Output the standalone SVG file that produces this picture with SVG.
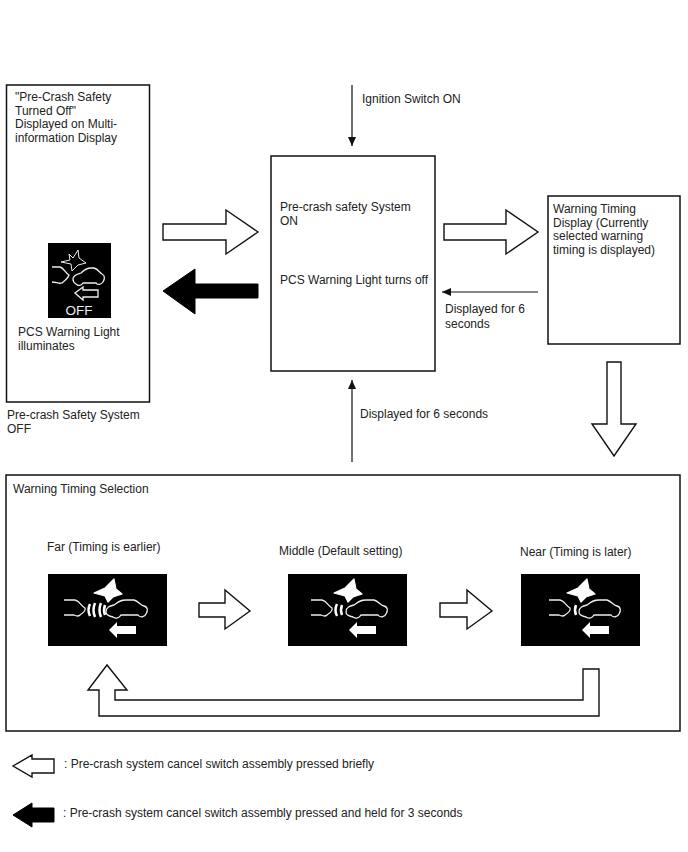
<svg xmlns="http://www.w3.org/2000/svg" width="688" height="852" viewBox="0 0 688 852">
<style>
text{font-family:"Liberation Sans",Arial,sans-serif;font-size:12px;fill:#222}
.box{fill:#fff;stroke:#111;stroke-width:1.5}
.hollow{fill:#fff;stroke:#111;stroke-width:1.4;stroke-linejoin:miter}
.solid{fill:#000;stroke:#000}
.line{fill:none;stroke:#111;stroke-width:1.2}
.ico{fill:none;stroke:#eee;stroke-width:1.3}
.white{fill:#fff}
.star{fill:#fff;stroke:#fff;stroke-width:1.2;stroke-linejoin:round}
.wave{fill:none;stroke:#fff;stroke-width:2.5}
</style>
<defs>
<marker id="tip" markerWidth="10" markerHeight="10" refX="9" refY="4" orient="auto" markerUnits="userSpaceOnUse"><path d="M0 0L9 4L0 8Z" fill="#111"/></marker>
<!-- black panel with star, car and arrow; the curved road mark is added per panel -->
<g id="crash">
<rect x="0" y="0" width="119" height="72" fill="#000"/>
<path class="star" d="M66 5L68 15L74 20L65 23L60 28L57 22L46 19L57 14Z"/>
<path class="ico" d="M58 38C58 33 62 32 66 31C70 28 72 26 78 26H86C90 27 92 31 96 32C100 33 100 37 98 40C97 43 92 44 90 41H73C71 44 68 45 65 43C60 42 58 41 58 38Z"/>
<path class="white" d="M61 56L69 48V52H88V60H69V64Z"/>
</g>
<path id="road" class="ico" d="M16 26H27C32 27 33 32 37 34C38 38 34 39 32 41C30 43 28 42 26 41H16"/>
</defs>

<g id="off-panel">
<rect class="box" x="6.500" y="85" width="143" height="317"/>
<text x="15" y="101">"Pre-Crash Safety</text><text x="15" y="115">Turned Off"</text><text x="15" y="128">Displayed on Multi-</text><text x="15" y="142">information Display</text>
<rect x="48" y="243" width="63" height="75" fill="#000"/>
<path d="M69 254L73 258L78 250L79 258L86 263L78 265L72 271L71 264L61 262L70 260Z" fill="none" stroke="#eee" stroke-width="1"/>
<path class="ico" d="M52 267H60C64 268 65 273 69 275C68 279 65 280 62 283C59 284 56 282 52 282"/>
<path class="ico" d="M73 279C73 275 78 274 81 273C84 270 87 268 91 268H94C98 269 100 273 102 274C105 275 105 279 103 282C101 285 97 285 96 283H83C81 286 78 286 76 284C74 283 73 281 73 279Z"/>
<path class="ico" d="M75 293L83 287V290H98V297H83V300Z"/>
<text x="65.500" y="314.500" style="font-size:13.500px;fill:#eee">OFF</text>
<text x="18" y="336">PCS Warning Light</text><text x="18" y="350">illuminates</text>
</g>
<g id="off-caption"><text x="7" y="419">Pre-crash Safety System</text><text x="7" y="433">OFF</text></g>

<g id="system-on">
<rect class="box" x="271" y="156" width="164" height="215"/>
<text x="280" y="211">Pre-crash safety System</text><text x="280" y="225">ON</text>
<text x="280" y="284">PCS Warning Light turns off</text>
</g>

<g id="timing-display">
<rect class="box" x="548" y="196" width="132" height="148"/>
<text x="553" y="213">Warning Timing</text><text x="553" y="227">Display (Currently</text><text x="553" y="240">selected warning</text><text x="553" y="254">timing is displayed)</text>
</g>

<g id="timing-selection">
<rect class="box" x="6" y="475" width="674" height="256"/>
<text x="13" y="493">Warning Timing Selection</text>
<text x="47" y="551">Far (Timing is earlier)</text>
<use href="#crash" x="48" y="574"/>
<use href="#road" x="48" y="574"/>
<path class="wave" d="M90 604Q87 610 90 616M95 603Q92 610 95 617M101 603Q98 610 101 617M105 605Q103 610 105 615"/>
<text x="279" y="555">Middle (Default setting)</text>
<use href="#crash" x="288" y="574"/>
<use href="#road" x="295" y="574"/>
<path class="wave" d="M337 604Q334 610 337 616M342 605Q340 610 342 615"/>
<text x="520" y="556">Near (Timing is later)</text>
<use href="#crash" x="521" y="574"/>
<use href="#road" x="533" y="574"/>
<path class="wave" d="M576 605Q574 610 576 615"/>
</g>

<g id="connectors">
<path class="line" marker-end="url(#tip)" d="M352 85V146"/>
<path class="line" marker-end="url(#tip)" d="M538 292H442"/>
<path class="line" marker-end="url(#tip)" d="M352 462V380"/>
<path class="hollow" d="M163 224H226V210L258 232L226 254V240H163Z"/>
<path class="solid" d="M258 284H195V269L163 291L195 314V298H258Z"/>
<path class="hollow" d="M444 224H506V210L538 232L506 254V240H444Z"/>
<path class="hollow" d="M607 362H621V424H636L614 456L592 424H607Z"/>
<path class="hollow" d="M199 603H225V590L250 611L225 629V617H199Z"/>
<path class="hollow" d="M440 603H467V590L492 611L467 629V617H440Z"/>
<path class="hollow" d="M583 669H599V716H99V690H88L107 665L127 690H115V700H583Z"/>
</g>
<g id="labels">
<text x="362" y="103">Ignition Switch ON</text>
<text x="445" y="313">Displayed for 6</text><text x="445" y="328">seconds</text>
<text x="360" y="418">Displayed for 6 seconds</text>
</g>
<g id="legend">
<path class="hollow" d="M13 766L32 755V759H54V773H32V777Z"/>
<text x="64" y="768">: Pre-crash system cancel switch assembly pressed briefly</text>
<path class="solid" d="M13 815L32 803V808H54V822H32V827Z"/>
<text x="63" y="817">: Pre-crash system cancel switch assembly pressed and held for 3 seconds</text>
</g>
</svg>
